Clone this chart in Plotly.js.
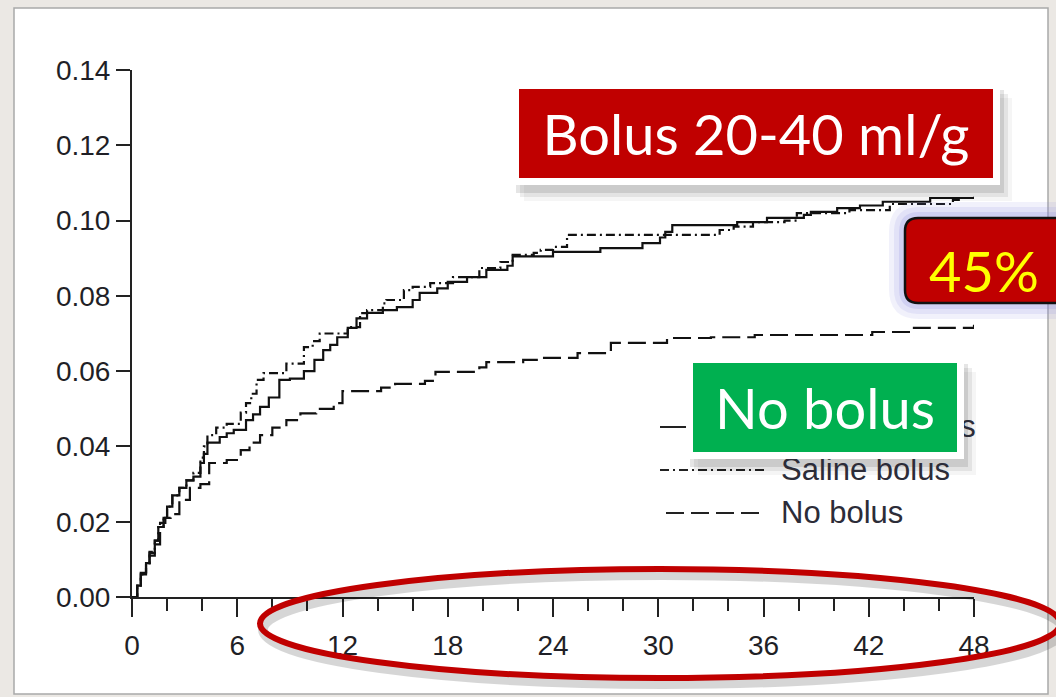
<!DOCTYPE html>
<html>
<head>
<meta charset="utf-8">
<script src="https://cdn.plot.ly/plotly-3.0.1.min.js"></script>
<style>
  html, body { margin: 0; padding: 0; background: #ebe8e4; }
  #chart { width: 1056px; height: 697px; }
</style>
</head>
<body>
<div id="chart"></div>
<script>
// ---- Data ----
const albuminHours = [0,0.3,0.5,0.8,1.0,1.3,1.5,1.8,2.0,2.3,2.7,3.1,3.5,3.9,4.1,4.3,5.0,5.4,5.8,6.5,6.9,7.3,7.8,8.4,9.0,9.8,10.4,10.9,11.3,11.7,12.3,12.8,13.4,14.3,15.1,16.0,16.4,17.4,18.0,19.1,20.2,21.4,21.7,24.0,26.7,29.1,30.1,30.4,30.8,34.5,36.2,38.3,38.7,40.2,41.5,42.8,45.5,48];
const albuminRisk  = [0,0.003,0.0064,0.009,0.0117,0.015,0.0186,0.021,0.024,0.027,0.029,0.031,0.032,0.0356,0.038,0.041,0.0425,0.0435,0.0444,0.047,0.0485,0.0505,0.053,0.0577,0.058,0.060,0.063,0.0656,0.067,0.069,0.0715,0.074,0.0755,0.0762,0.077,0.0789,0.0808,0.082,0.0837,0.085,0.0869,0.088,0.0905,0.0917,0.0927,0.094,0.0955,0.097,0.0988,0.0996,0.1007,0.1015,0.1023,0.1033,0.104,0.105,0.106,0.1063];

const salineHours = [0,0.3,0.5,0.8,1.0,1.3,1.5,1.8,2.0,2.3,2.7,3.1,3.5,3.9,4.1,4.3,4.8,5.4,6.2,6.5,6.8,7.1,7.5,8.8,9.8,10.3,10.7,12.3,13.0,13.4,14.3,14.5,15.5,16.0,17.0,18.3,19.8,21.0,21.7,22.9,23.3,24.0,24.8,33.5,34.3,35.4,37.2,37.9,40.9,43.2,46.8,47.3];
const salineRisk  = [0,0.003,0.006,0.009,0.012,0.015,0.0186,0.021,0.024,0.027,0.029,0.031,0.033,0.037,0.040,0.043,0.045,0.046,0.049,0.0515,0.054,0.0577,0.0595,0.062,0.0664,0.068,0.070,0.0717,0.0754,0.0762,0.078,0.0789,0.0815,0.0824,0.0834,0.085,0.0874,0.089,0.0909,0.0914,0.0922,0.093,0.0962,0.0975,0.0984,0.0996,0.100,0.102,0.1028,0.1044,0.1055,0.1055];

const noBolusHours = [0,0.3,0.5,0.8,1.0,1.3,1.6,1.9,2.2,2.7,3.3,3.9,4.4,5.4,6.2,6.7,7.3,8.0,8.8,9.6,10.5,11.5,12.0,14.2,15.0,16.7,17.3,19.8,20.2,22.3,23.2,25.4,27.3,30.5,33.0,35.5,42.2,44.5,48];
const noBolusRisk  = [0,0.003,0.006,0.009,0.011,0.014,0.0197,0.021,0.022,0.0258,0.029,0.030,0.0356,0.0364,0.039,0.041,0.043,0.045,0.047,0.0488,0.050,0.0515,0.0547,0.0556,0.0566,0.0574,0.0598,0.061,0.0624,0.063,0.0635,0.0648,0.0675,0.0688,0.069,0.0696,0.0704,0.0715,0.0723];

const seriesNames = ["Albumin bolus", "Saline bolus", "No bolus"];
const xTickValues = [0, 6, 12, 18, 24, 30, 36, 42, 48];
const yTickValues = [0.00, 0.02, 0.04, 0.06, 0.08, 0.10, 0.12, 0.14];

// ---- Layout geometry ----
const W = 1056, H = 697;
const M = {l: 132, r: 82, t: 70, b: 100};
const PW = W - M.l - M.r, PH = H - M.t - M.b;
const px = v => (v - M.l) / PW;          // pixel x -> paper x
const py = v => (H - M.b - v) / PH;      // pixel y -> paper y

function rect(x0, y0, x1, y1, fill, line, lw) {
  return {type: 'rect', xref: 'paper', yref: 'paper', layer: 'above',
    x0: px(x0), x1: px(x1), y0: py(y1), y1: py(y0),
    fillcolor: fill, line: {color: line || 'rgba(0,0,0,0)', width: lw || 0}};
}
function roundRectPath(x0, y0, x1, y1, r) {
  const P = (a, b) => px(a) + ',' + py(b);
  return 'M' + P(x0 + r, y0) + ' L' + P(x1 - r, y0) + ' Q' + P(x1, y0) + ' ' + P(x1, y0 + r) +
    ' L' + P(x1, y1 - r) + ' Q' + P(x1, y1) + ' ' + P(x1 - r, y1) +
    ' L' + P(x0 + r, y1) + ' Q' + P(x0, y1) + ' ' + P(x0, y1 - r) +
    ' L' + P(x0, y0 + r) + ' Q' + P(x0, y0) + ' ' + P(x0 + r, y0) + ' Z';
}
function roundRect(x0, y0, x1, y1, r, fill, line, lw) {
  return {type: 'path', xref: 'paper', yref: 'paper', layer: 'above',
    path: roundRectPath(x0, y0, x1, y1, r), fillcolor: fill,
    line: {color: line || 'rgba(0,0,0,0)', width: lw || 0}};
}

const lineStyles = ['solid', '9px,4px,2px,4px', '18px,7px'];
const allX = [albuminHours, salineHours, noBolusHours];
const allY = [albuminRisk, salineRisk, noBolusRisk];

const traces = seriesNames.map((name, i) => ({
  type: 'scatter', mode: 'lines', name: name,
  x: allX[i], y: allY[i],
  line: {shape: 'hv', color: '#111', width: 2.2, dash: lineStyles[i]},
  showlegend: false, hoverinfo: 'skip', cliponaxis: false
}));

const shapes = [];
// white card behind the chart
shapes.push(Object.assign(rect(14, 8, 1048, 694, '#ffffff', '#a9a9a9', 1.5), {layer: 'below'}));

// legend samples
const legRows = [427, 470, 513];
legRows.forEach((yy, i) => {
  shapes.push({type: 'line', xref: 'paper', yref: 'paper', layer: 'above',
    x0: px(i === 2 ? 666 : 660), x1: px(765), y0: py(yy), y1: py(yy),
    line: {color: '#222', width: 2, dash: lineStyles[i]}});
});

// shadows for the framed boxes
[[0.10, 4], [0.07, 8], [0.04, 12]].forEach(([a, o]) => {
  shapes.push(rect(512 + o, 82 + o + 4, 1000 + o, 185 + o + 4, 'rgba(0,0,0,' + a + ')'));
  shapes.push(rect(686 + o, 356 + o + 4, 964 + o, 459 + o + 4, 'rgba(0,0,0,' + a + ')'));
});

// glow + rounded box for 45%
[[16, 0.12], [11, 0.15], [6, 0.2]].forEach(([e, a]) => {
  shapes.push(roundRect(905 - e, 218 - e, 1075 + e, 303 + e, 14 + e, 'rgba(140,140,225,' + a + ')'));
});
shapes.push(roundRect(905, 218, 1075, 303, 13, '#c00000', '#111', 2.5));

// red ellipse around the time axis (with soft shadow)
shapes.push({type: 'circle', xref: 'paper', yref: 'paper', layer: 'above',
  x0: px(263), x1: px(1063), y0: py(684), y1: py(575),
  line: {color: 'rgba(0,0,0,0.16)', width: 10}});
shapes.push({type: 'circle', xref: 'paper', yref: 'paper', layer: 'above',
  x0: px(260), x1: px(1060), y0: py(678), y1: py(569),
  line: {color: '#c00000', width: 6}});

const annotations = [];
// legend labels
seriesNames.forEach((name, i) => {
  annotations.push({xref: 'paper', yref: 'paper', x: px(779), y: py(legRows[i] - 1),
    xanchor: 'left', yanchor: 'middle', showarrow: false, text: name,
    font: {family: 'Liberation Sans, Arial, sans-serif', size: 31, color: '#2c2c38'}});
});
// framed call-out boxes
annotations.push({xref: 'paper', yref: 'paper', x: px(756), y: py(133.5),
  xanchor: 'center', yanchor: 'middle', showarrow: false,
  text: 'Bolus 20-40 ml/g', width: 474, height: 89,
  bgcolor: '#c00000', bordercolor: '#ffffff', borderwidth: 7, borderpad: 0,
  font: {family: 'Lato, Open Sans, sans-serif', size: 56, color: '#ffffff'}});
annotations.push({xref: 'paper', yref: 'paper', x: px(825), y: py(407.5),
  xanchor: 'center', yanchor: 'middle', showarrow: false,
  text: 'No bolus', width: 264, height: 89,
  bgcolor: '#00b050', bordercolor: '#ffffff', borderwidth: 7, borderpad: 0,
  font: {family: 'Lato, Open Sans, sans-serif', size: 56, color: '#ffffff'}});
annotations.push({xref: 'paper', yref: 'paper', x: px(984), y: py(270),
  xanchor: 'center', yanchor: 'middle', showarrow: false, text: '45%',
  font: {family: 'Lato, Open Sans, sans-serif', size: 56, color: '#ffff00'}});

const axisFont = {family: 'Liberation Sans, Arial, sans-serif', size: 28, color: '#1f1f26'};

const layout = {
  width: W, height: H,
  margin: M,
  paper_bgcolor: '#ebe8e4',
  plot_bgcolor: 'rgba(0,0,0,0)',
  showlegend: false,
  xaxis: {
    range: [0, 48], tickvals: xTickValues, ticktext: xTickValues.map(String),
    ticks: 'outside', ticklen: 18, tickwidth: 2, tickcolor: '#222',
    showline: true, linecolor: '#222', linewidth: 2,
    showgrid: false, zeroline: false, tickfont: axisFont, ticklabelstandoff: 4,
    minor: {dtick: 2, tick0: 0, ticks: 'outside', ticklen: 12, tickwidth: 2, tickcolor: '#222', showgrid: false},
    fixedrange: true
  },
  yaxis: {
    range: [0, 0.14], tickvals: yTickValues, ticktext: yTickValues.map(v => v.toFixed(2)),
    ticks: 'outside', ticklen: 14, tickwidth: 2, tickcolor: '#222',
    showline: true, linecolor: '#222', linewidth: 2,
    showgrid: false, zeroline: false, tickfont: axisFont,
    fixedrange: true
  },
  shapes: shapes,
  annotations: annotations
};

Plotly.newPlot('chart', traces, layout, {displayModeBar: false, staticPlot: true});
</script>
</body>
</html>
